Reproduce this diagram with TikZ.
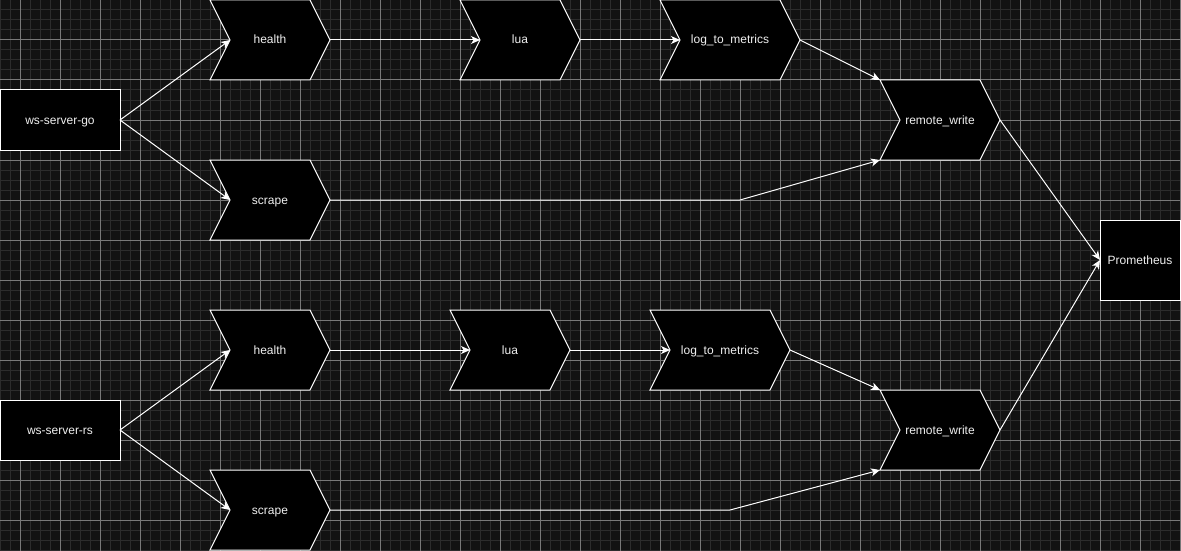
\documentclass[tikz,border=0pt]{standalone}
\usepackage{fontspec}
\setmainfont{Liberation Sans}
\usetikzlibrary{arrows.meta}
\definecolor{bgcol}{RGB}{18,18,18}
\definecolor{minorcol}{RGB}{44,44,44}
\definecolor{majorcol}{RGB}{120,120,120}
\definecolor{txtcol}{RGB}{240,240,240}
\pgfdeclarelayer{gridlayer}
\pgfdeclarelayer{shapelayer}
\pgfsetlayers{gridlayer,shapelayer,main}
\tikzset{
  minorgrid/.style={draw=minorcol, line width=1pt},
  majorgrid/.style={draw=majorcol, line width=1pt},
  labeltext/.style={text=txtcol, font=\fontsize{12pt}{14pt}\selectfont, text height=8pt, text depth=0pt},
  boxnode/.style={labeltext, draw=white, fill=black, line width=1pt, minimum width=120pt, minimum height=60pt, inner sep=0pt, outer sep=0pt},
  chevnode/.style={labeltext, draw=none, minimum width=#1, minimum height=80pt, inner sep=0pt, outer sep=0pt},
  chevnode/.default=120pt,
  chevshape/.style={draw=white, fill=black, line width=1pt, line join=miter},
  conn/.style={draw=white, line width=1pt, -{Stealth[length=9pt,width=8pt,inset=2.5pt]}},
}
\newcommand\chevdraw[1]{\path[chevshape] (#1.north west) -- ([xshift=-20pt]#1.north east) -- (#1.east) -- ([xshift=-20pt]#1.south east) -- (#1.south west) -- ([xshift=20pt]#1.west) -- cycle;}
\begin{document}
\begin{tikzpicture}[x=1pt, y=-1pt]
\useasboundingbox (0,0) rectangle (1181,551);
\begin{pgfonlayer}{gridlayer}
  \fill[bgcol] (0,0) rectangle (1181,551);
  \foreach \x in {0,10,...,1180} \draw[minorgrid] (\x,0) -- (\x,551);
  \foreach \y in {0,10,...,550} \draw[minorgrid] (0,\y) -- (1181,\y);
  \foreach \x in {20,60,...,1180} \draw[majorgrid] (\x,0) -- (\x,551);
  \foreach \y in {0,40,...,550} \draw[majorgrid] (0,\y) -- (1181,\y);
\end{pgfonlayer}

% top row
\node[boxnode] (go) at (60,120) {ws-server-go};
\node[chevnode] (h1) at (270,40) {health};
\node[chevnode] (s1) at (270,200) {scrape};
\node[chevnode] (l1) at (520,40) {lua};
\node[chevnode=140pt] (m1) at (730,40) {log\_to\_metrics};
\node[chevnode] (r1) at (940,120) {remote\_write};
\node[boxnode, minimum width=80pt, minimum height=80pt] (prom) at (1140,260) {Prometheus};

% bottom row
\node[boxnode] (rs) at (60,430) {ws-server-rs};
\node[chevnode] (h2) at (270,350) {health};
\node[chevnode] (s2) at (270,510) {scrape};
\node[chevnode] (l2) at (510,350) {lua};
\node[chevnode=140pt] (m2) at (720,350) {log\_to\_metrics};
\node[chevnode] (r2) at (940,430) {remote\_write};

\begin{pgfonlayer}{shapelayer}
  \foreach \n in {h1,s1,l1,m1,r1,h2,s2,l2,m2,r2} {\chevdraw{\n}}
\end{pgfonlayer}

\coordinate (b1) at (740,200);
\coordinate (b2) at (730,510);

\draw[conn] (go.east) -- ([xshift=20pt]h1.west);
\draw[conn] (go.east) -- ([xshift=20pt]s1.west);
\draw[conn] (h1.east) -- ([xshift=20pt]l1.west);
\draw[conn] (l1.east) -- ([xshift=20pt]m1.west);
\draw[conn] (m1.east) -- (r1.north west);
\draw[conn] (s1.east) -- (b1) -- (r1.south west);
\draw[conn] (r1.east) -- (prom.west);

\draw[conn] (rs.east) -- ([xshift=20pt]h2.west);
\draw[conn] (rs.east) -- ([xshift=20pt]s2.west);
\draw[conn] (h2.east) -- ([xshift=20pt]l2.west);
\draw[conn] (l2.east) -- ([xshift=20pt]m2.west);
\draw[conn] (m2.east) -- (r2.north west);
\draw[conn] (s2.east) -- (b2) -- (r2.south west);
\draw[conn] (r2.east) -- (prom.west);
\end{tikzpicture}
\end{document}
